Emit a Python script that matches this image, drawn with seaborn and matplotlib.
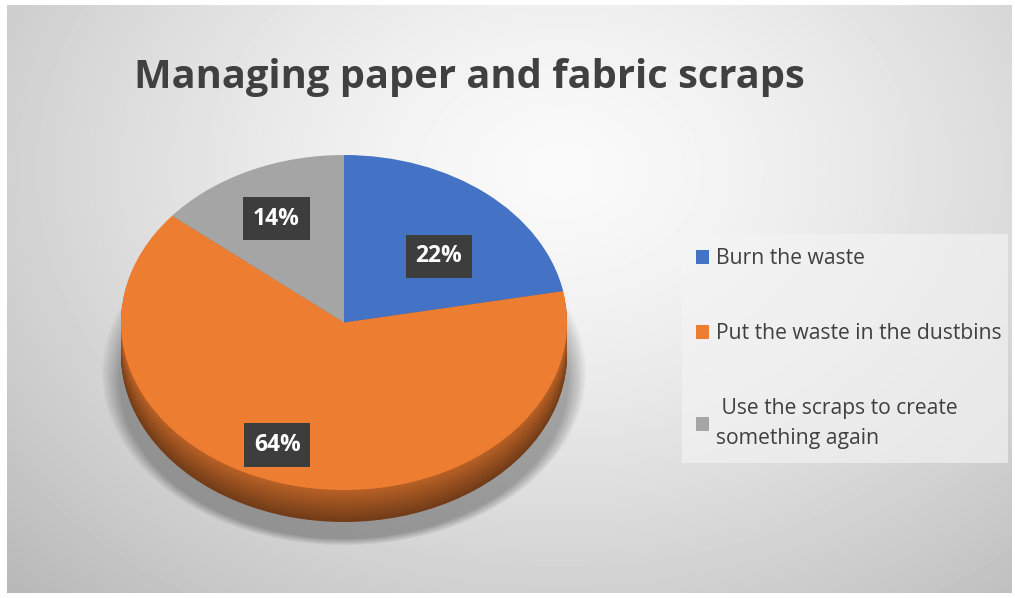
import numpy as np
import matplotlib
matplotlib.use("Agg")
import matplotlib.pyplot as plt
import matplotlib.colors as mcolors
from matplotlib.patches import Ellipse
import seaborn as sns

# ---- data ----
categories = ["Burn the waste", "Put the waste in the dustbins",
              " Use the scraps to create\nsomething again"]
values = [22, 64, 14]
pct_labels = ["22%", "64%", "14%"]
title = "Managing paper and fabric scraps"

# ---- style ----
sns.set_theme(style="white")
plt.rcParams["font.family"] = ["Open Sans", "DejaVu Sans"]
colors = ["#4472C4", "#ED7D31", "#A5A5A5"]
text_col = "#404040"

W, H = 1015, 598
fig = plt.figure(figsize=(W / 100, H / 100), dpi=100)
fig.patch.set_facecolor("white")

# background gradient (chart area)
x0, x1, y0, y1 = 7, 1012, 5, 593
bg = fig.add_axes([x0 / W, 1 - y1 / H, (x1 - x0) / W, (y1 - y0) / H], zorder=0)
yy, xx = np.mgrid[y0:y1, x0:x1]
r = np.sqrt(((xx - 560) / 620.0) ** 2 + ((yy - 170) / 470.0) ** 2)
v = np.clip(250 - 48 * r ** 1.4, 185, 250)
bg.imshow(v, cmap="gray", vmin=0, vmax=255, aspect="auto", interpolation="bilinear")
bg.set_axis_off()

# pie axes: top face ellipse centre (344, 322.5), rx 223, ry 167.5 px
cx, cy, rx, ry = 344, 322.5, 223, 167.5
xl = (-1.1, 1.1)
yl = (-1.35, 1.05)
left_px = cx + xl[0] * rx
ax = fig.add_axes([left_px / W, 1 - (cy - yl[0] * ry) / H,
                   (xl[1] - xl[0]) * rx / W, (yl[1] - yl[0]) * ry / H], zorder=1)
ax.patch.set_alpha(0)

depth = 32 / ry

# soft shadow
for i in range(16):
    t = i / 15
    ax.add_patch(Ellipse((0.0, -0.30 - 0.05 * t), 2 * (1.085 - 0.08 * t),
                         2 * (1.03 - 0.09 * t), facecolor="black",
                         alpha=0.018, lw=0, zorder=0))

# side (stacked, darker layers)
N = 34
for k in range(N, 0, -1):
    f = 0.78 - 0.30 * (k / N)
    side_cols = [tuple(c * f for c in mcolors.to_rgb(col)) for col in colors]
    ws, _ = ax.pie(values, colors=side_cols, startangle=90, counterclock=False,
                   radius=1, center=(0, -depth * k / N),
                   wedgeprops=dict(linewidth=0))
    for w in ws:
        w.set_zorder(1)

# top face
wedges, _ = ax.pie(values, colors=colors, startangle=90, counterclock=False,
                   radius=1, center=(0, 0),
                   wedgeprops=dict(linewidth=0.6, edgecolor="none"))
for w in wedges:
    w.set_zorder(2)

ax.set_aspect("auto")
ax.set_xlim(*xl)
ax.set_ylim(*yl)
ax.set_axis_off()

# data labels in dark boxes
label_layout = [(0.58, -7.6), (0.79, -7.9), (0.69, 0.8)]  # (radius, angle nudge)
for w, lab, (rr, da) in zip(wedges, pct_labels, label_layout):
    mid = np.deg2rad((w.theta1 + w.theta2) / 2 + da)
    ax.text(rr * np.cos(mid), rr * np.sin(mid), lab, ha="center", va="center",
            fontsize=16.5, fontweight="bold", color="white", zorder=5,
            bbox=dict(boxstyle="square,pad=0.42", facecolor="#3d3d3d",
                      edgecolor="none"))

# title
fig.text(469 / W, 1 - 88 / H, title, ha="center", va="baseline",
         fontsize=28.7, fontweight="bold", color=text_col)

# legend
leg = fig.legend(wedges, categories, loc="upper left",
                 bbox_to_anchor=(682 / W, 1 - 234 / H, (1008 - 682) / W, 0.0),
                 mode="expand", borderaxespad=0, frameon=True,
                 prop=dict(size=15.2, family=["Open Sans", "DejaVu Sans"]),
                 labelcolor=text_col, handlelength=0.62, handleheight=0.62,
                 handletextpad=0.3, labelspacing=2.55, borderpad=0.68,
                 fancybox=False)
for t in leg.get_texts():
    t.set_linespacing(1.55)
leg.get_frame().set_facecolor("#f4f4f4")
leg.get_frame().set_alpha(0.65)
leg.get_frame().set_edgecolor("none")

fig.savefig("out.png", dpi=100)
